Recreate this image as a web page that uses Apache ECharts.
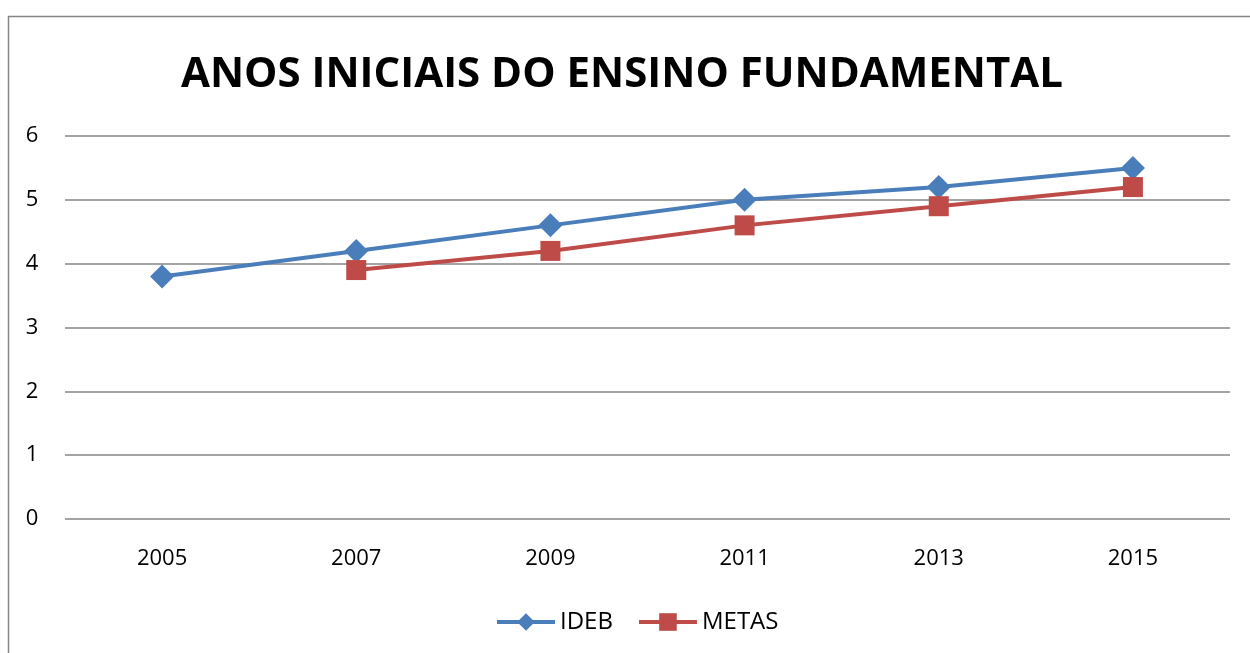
<!DOCTYPE html>
<html>
<head>
<meta charset="utf-8">
<script src="https://cdn.jsdelivr.net/npm/echarts@6/dist/echarts.min.js"></script>
<style>
html,body{margin:0;padding:0;background:#fff;}
#chart{width:1250px;height:653px;}
</style>
</head>
<body>
<div id="chart"></div>
<script>
// dados do grafico
var anos = ['2005', '2007', '2009', '2011', '2013', '2015'];
var ideb = [3.8, 4.2, 4.6, 5.0, 5.2, 5.5];
var metas = [null, 3.9, 4.2, 4.6, 4.9, 5.2];

var myChart = echarts.init(document.getElementById('chart'));
var fonte = '"Open Sans", "Noto Sans", sans-serif';
var option = {
	backgroundColor: '#fff',
	animation: false,
	title: {
		text: 'ANOS INICIAIS DO ENSINO FUNDAMENTAL',
		left: 617,
		textAlign: 'center',
		top: 49,
		textStyle: {fontFamily: fonte, fontWeight: 'bold', fontSize: 42, color: '#000'}
	},
	graphic: [{
		type: 'rect',
		shape: {x: 8.5, y: 16.5, width: 1300, height: 700},
		style: {fill: 'none', stroke: '#868686', lineWidth: 1.5},
		silent: true
	}],
	legend: {
		bottom: 14,
		left: 490,
		itemWidth: 58,
		itemHeight: 22,
		itemGap: 24,
		textStyle: {fontFamily: fonte, fontSize: 24, color: '#000'},
		lineStyle: {width: 4},
		data: ['IDEB', 'METAS']
	},
	grid: {left: 65, right: 20, top: 136, bottom: 134},
	xAxis: {
		type: 'category',
		data: anos,
		boundaryGap: true,
		axisLine: {show: false},
		axisTick: {show: false},
		axisLabel: {fontFamily: fonte, fontSize: 22, color: '#000', margin: 29}
	},
	yAxis: {
		type: 'value',
		min: 0, max: 6, interval: 1,
		axisLine: {show: false},
		axisTick: {show: false},
		axisLabel: {fontFamily: fonte, fontSize: 22, color: '#000', margin: 33, align: 'center'},
		splitLine: {lineStyle: {color: '#868686', width: 1.5}}
	},
	series: [
		{
			name: 'IDEB', type: 'line', data: ideb,
			symbol: 'diamond', symbolSize: 24,
			lineStyle: {color: '#4a7ebb', width: 4},
			itemStyle: {color: '#4a7ebb'}
		},
		{
			name: 'METAS', type: 'line', data: metas,
			symbol: 'rect', symbolSize: 20,
			lineStyle: {color: '#be4b48', width: 4},
			itemStyle: {color: '#be4b48'}
		}
	]
};
myChart.setOption(option);
</script>
</body>
</html>
